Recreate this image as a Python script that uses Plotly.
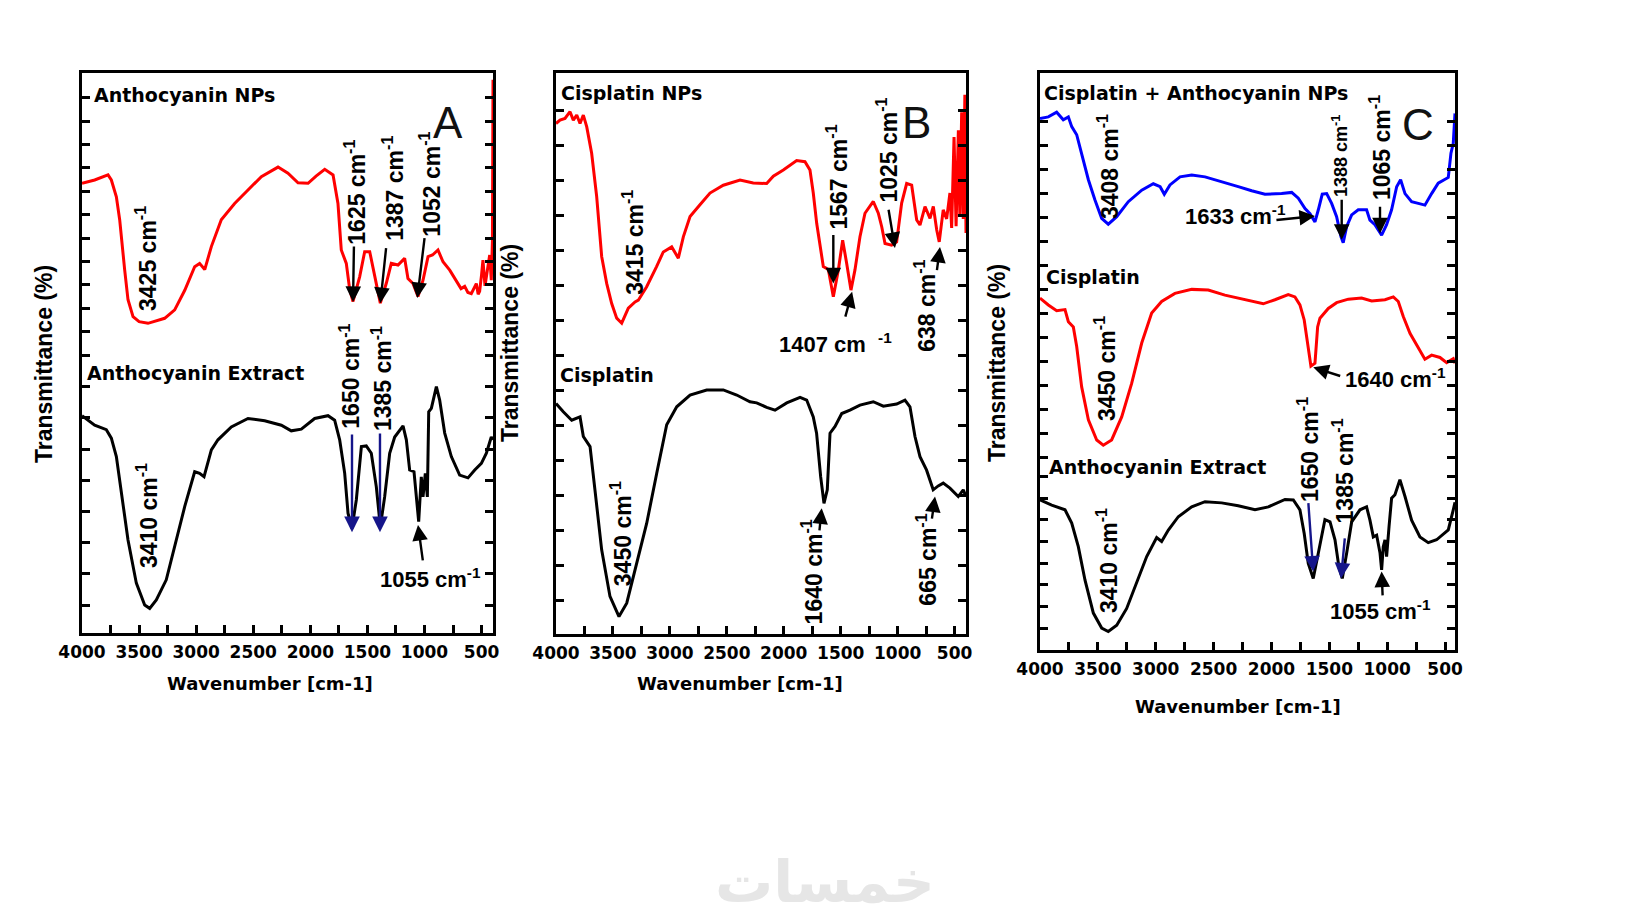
import plotly.graph_objects as go
import numpy as np

W, H = 1652, 923
OFF = 8  # page body margin of the html page

# ---------------- data (wavenumber cm-1, transmittance, arbitrary offset units) ----------------
a_nps = [(4000,80.3),(3889,80.9),(3772,81.8),(3743,80.9),(3699,77.9),(3670,73.8),(3626,64.8),(3597,59.5),
         (3553,56.5),(3500,55.6),(3422,55.3),(3350,55.8),(3276,56.2),(3188,57.7),(3100,61.2),(3013,65.4),
         (2970,66.0),(2925,64.9),(2867,69.0),(2780,73.8),(2663,76.7),(2546,79.1),(2429,81.5),(2283,83.2),
         (2196,82.1),(2108,80.4),(2020,80.3),(1950,81.6),(1874,82.8),(1801,81.8),(1758,76.7),(1729,68.4),
         (1685,66.0),(1655,61.3),(1626,59.2),(1568,63.6),(1524,68.1),(1480,68.1),(1436,63.6),(1387,58.9),
         (1334,62.5),(1291,66.0),(1232,65.7),(1174,66.9),(1145,63.3),(1101,62.4),(1057,60.1),(1013,63.0),
         (969,67.2),(930,67.5),(882,68.4),(838,66.3),(779,64.8),(707,62.4),(680,61.5),(648,61.9),(620,60.8),
         (590,60.6),(560,62.0),(546,62.4),(530,60.5),(517,61.0),(500,64.0),(488,66.6),(470,62.0),(458,63.5),
         (445,65.5),(429,67.5),(415,63.0),(405,70.0),(400,98.8)]
a_ext = [(4000,38.8),(3889,37.1),(3787,36.3),(3743,34.8),(3699,31.5),(3656,25.5),(3597,16.6),(3524,8.9),
         (3451,5.0),(3407,4.4),(3349,5.9),(3262,9.5),(3188,15.4),(3100,22.6),(3013,28.8),(2970,28.5),
         (2931,27.9),(2867,32.7),(2809,34.5),(2692,36.8),(2546,38.3),(2400,37.9),(2254,37.1),(2167,36.1),
         (2079,36.4),(1962,38.3),(1845,38.8),(1787,38.0),(1743,34.5),(1699,28.5),(1670,21.4),(1635,18.7),
         (1597,23.8),(1553,33.3),(1510,33.4),(1466,32.1),(1422,26.1),(1387,19.0),(1349,24.3),(1305,32.1),
         (1261,35.0),(1188,37.0),(1159,34.5),(1130,29.1),(1092,28.8),(1072,24.3),(1051,19.9),(1028,27.9),
         (1013,24.3),(993,28.5),(975,24.3),(963,39.5),(940,40.1),(896,44.0),(867,41.6),(823,35.7),(765,31.5),
         (692,28.2),(619,27.7),(560,29.1),(502,30.3),(458,32.1),(415,35.0),(400,34.5)]
b_nps = [(4000,91.0),(3965,91.6),(3921,91.9),(3877,93.1),(3848,91.6),(3818,92.5),(3789,91.0),(3760,92.5),
         (3730,90.4),(3687,85.7),(3643,78.0),(3599,67.3),(3555,62.5),(3511,58.9),(3467,56.3),(3423,55.4),
         (3365,58.1),(3306,59.2),(3277,59.5),(3204,61.9),(3117,65.5),(3058,68.1),(2984,69.0),(2926,67.0),
         (2882,70.8),(2823,74.4),(2736,76.5),(2648,78.6),(2531,80.0),(2384,80.9),(2268,80.4),(2150,80.3),
         (2092,81.6),(2004,82.7),(1887,84.4),(1814,84.2),(1770,82.7),(1741,78.6),(1711,73.2),(1688,70.2),
         (1653,65.5),(1609,65.0),(1565,60.1),(1521,64.9),(1483,70.2),(1448,66.1),(1410,61.3),(1375,64.9),
         (1331,70.8),(1287,75.0),(1214,77.1),(1170,75.0),(1140,72.6),(1111,69.6),(1053,69.3),(1009,69.9),
         (965,76.8),(921,80.3),(877,80.0),(833,73.8),(804,72.9),(760,76.2),(716,74.1),(687,76.2),(657,72.0),
         (635,69.9),(600,75.6),(570,74.0),(541,78.6),(526,72.4),(505,88.6),(487,72.7),(467,89.8),(454,74.5),
         (438,93.0),(424,74.0),(410,96.1),(400,71.5)]
b_cis = [(4000,41.1),(3936,39.6),(3862,38.1),(3789,38.7),(3760,35.2),(3701,33.4),(3658,25.7),(3599,15.0),
         (3526,6.7),(3447,3.1),(3379,5.5),(3291,12.6),(3204,19.7),(3116,28.6),(3028,37.3),(2940,40.5),
         (2823,42.6),(2677,43.5),(2531,43.5),(2413,42.6),(2297,41.4),(2238,41.2),(2150,40.4),(2077,39.9),
         (1974,41.2),(1857,42.2),(1799,41.7),(1741,38.7),(1712,35.8),(1676,28.0),(1647,23.3),(1618,25.7),
         (1594,35.8),(1550,37.0),(1491,39.3),(1419,39.9),(1331,40.8),(1214,41.4),(1126,40.6),(1009,41.0),
         (936,41.7),(892,40.5),(848,35.2),(804,31.6),(746,29.2),(688,25.7),(644,26.4),(600,26.9),(541,26.0),
         (468,24.5),(424,25.7),(400,24.5)]
c_mix = [(4000,92.1),(3928,92.4),(3856,93.2),(3830,92.6),(3799,91.9),(3755,92.4),(3726,90.7),(3683,89.3),
         (3640,86.1),(3582,81.5),(3525,78.0),(3467,74.8),(3410,73.8),(3337,75.1),(3237,77.7),(3121,79.7),
         (3021,80.8),(2962,80.3),(2926,79.0),(2877,80.6),(2790,82.0),(2689,82.3),(2574,82.0),(2430,81.2),
         (2287,80.3),(2171,79.6),(2056,79.0),(1912,79.1),(1825,79.3),(1768,78.3),(1710,76.5),(1667,75.6),
         (1624,74.2),(1595,76.3),(1561,79.0),(1523,79.1),(1480,77.4),(1437,75.1),(1399,71.6),(1380,70.6),
         (1350,73.4),(1307,75.4),(1250,76.3),(1178,76.3),(1149,74.5),(1106,73.7),(1048,71.9),(1005,73.7),
         (962,76.3),(918,80.3),(884,81.5),(846,79.1),(789,77.7),(731,77.4),(674,77.1),(616,79.1),(559,80.9),
         (472,81.9),(449,86.1),(429,87.8),(414,93.0)]
c_cis = [(4000,61.0),(3928,59.8),(3856,58.8),(3784,59.0),(3755,56.9),(3712,56.0),(3683,52.6),(3640,45.6),
         (3582,39.9),(3510,36.4),(3453,35.5),(3381,36.4),(3294,40.4),(3208,46.2),(3121,53.2),(3035,58.4),
         (2949,60.4),(2834,61.8),(2689,62.5),(2546,62.4),(2402,61.5),(2257,60.8),(2171,60.5),(2071,60.0),
         (1970,60.7),(1855,61.6),(1797,61.2),(1754,59.8),(1717,57.2),(1687,53.2),(1659,49.2),(1624,49.7),
         (1601,56.0),(1581,57.5),(1509,59.2),(1437,60.2),(1336,60.8),(1221,61.0),(1134,60.5),(1019,60.7),
         (947,61.2),(904,60.4),(861,57.8),(803,54.9),(745,52.9),(674,50.4),(616,51.1),(544,50.7),(486,49.8),
         (429,50.5),(414,49.7)]
c_ext = [(4000,26.0),(3899,25.1),(3784,24.3),(3726,22.0),(3669,17.9),(3611,12.1),(3539,6.4),(3467,3.8),
         (3410,3.2),(3337,4.3),(3251,7.2),(3165,11.6),(3078,16.2),(2992,19.5),(2949,18.8),(2891,20.8),
         (2805,23.1),(2689,24.8),(2574,25.7),(2430,25.5),(2287,25.0),(2142,24.3),(2027,24.8),(1883,26.1),
         (1811,26.0),(1754,24.3),(1717,20.2),(1682,15.0),(1639,12.4),(1595,16.8),(1538,22.6),(1494,22.2),
         (1451,19.1),(1417,14.4),(1388,12.4),(1350,16.8),(1307,22.2),(1235,24.3),(1178,24.8),(1149,22.5),
         (1120,19.6),(1091,19.9),(1062,16.8),(1048,13.9),(1034,17.9),(1019,19.1),(1005,16.2),(984,21.4),
         (962,26.3),(933,26.9),(890,29.5),(846,26.6),(789,22.5),(717,19.6),(645,18.6),(573,19.1),(530,19.9),
         (472,20.8),(429,24.3),(414,25.6)]

x_tick_vals = [4000, 3500, 3000, 2500, 2000, 1500, 1000, 500]
x_tick_text = ["4000", "3500", "3000", "2500", "2000", "1500", "1000", "500"]

# sample name labels: (panel, wn, t, text)
names = [(1, 3912, 96.1, "Anthocyanin NPs"), (1, 3971, 46.4, "Anthocyanin Extract"),
         (2, 3974, 96.4, "Cisplatin NPs"), (2, 3982, 46.2, "Cisplatin"),
         (3, 3983, 96.6, "Cisplatin + Anthocyanin NPs"), (3, 3965, 64.7, "Cisplatin"),
         (3, 3942, 31.8, "Anthocyanin Extract")]
letters = [(1, 794, 91.1, "A"), (2, 833, 91.1, "B"), (3, 734, 91.0, "C")]
# rotated peak labels: (panel, wn, t, text, size)
peaks_v = [(1, 3439, 66.8, "3425 cm<sup>-1</sup>", 23), (1, 1609, 78.8, "1625 cm<sup>-1</sup>", 23),
           (1, 1276, 79.5, "1387 cm<sup>-1</sup>", 23), (1, 954, 80.2, "1052 cm<sup>-1</sup>", 23),
           (1, 3425, 21.0, "3410 cm<sup>-1</sup>", 23), (1, 1655, 45.9, "1650 cm<sup>-1</sup>", 23),
           (1, 1378, 45.4, "1385 cm<sup>-1</sup>", 23),
           (2, 3324, 69.9, "3415 cm<sup>-1</sup>", 23), (2, 1535, 81.5, "1567 cm<sup>-1</sup>", 23),
           (2, 1096, 86.3, "1025 cm<sup>-1</sup>", 23), (2, 760, 58.5, "638 cm<sup>-1</sup>", 23),
           (2, 3429, 17.8, "3450 cm<sup>-1</sup>", 23), (2, 1755, 11.1, "1640 cm<sup>-1</sup>", 23),
           (2, 745, 13.2, "665 cm<sup>-1</sup>", 23),
           (3, 3412, 83.7, "3408 cm<sup>-1</sup>", 23), (3, 1408, 85.6, "1388 cm<sup>-1</sup>", 18),
           (3, 1062, 87.0, "1065 cm<sup>-1</sup>", 23), (3, 3438, 48.7, "3450 cm<sup>-1</sup>", 23),
           (3, 3425, 15.5, "3410 cm<sup>-1</sup>", 23), (3, 1682, 34.7, "1650 cm<sup>-1</sup>", 23),
           (3, 1379, 31.0, "1385 cm<sup>-1</sup>", 23)]
# horizontal peak labels: (panel, wn_left, t, text)
peaks_h = [(1, 1407, 9.8, "1055 cm<sup>-1</sup>"), (2, 2062, 51.8, "1407 cm  <sup>-1</sup>"),
           (3, 2764, 75.4, "1633 cm<sup>-1</sup>"), (3, 1380, 47.1, "1640 cm<sup>-1</sup>"),
           (3, 1509, 6.9, "1055 cm<sup>-1</sup>")]
# arrows: (panel, wn_tail, t_tail, wn_head, t_head, colour)
NAVY = "#15158a"
arrows = [(1, 1618, 69.3, 1626, 59.1, "black"), (1, 1335, 69.0, 1387, 58.9, "black"),
          (1, 998, 70.8, 1063, 59.8, "black"), (1, 1635, 35.7, 1635, 18.0, NAVY),
          (1, 1390, 35.9, 1390, 18.0, NAVY), (1, 1013, 12.7, 1057, 19.3, "black"),
          (2, 1565, 71.4, 1565, 62.5, "black"), (2, 1463, 56.3, 1400, 61.0, "black"),
          (2, 1082, 75.9, 1024, 68.8, "black"), (2, 657, 64.6, 628, 69.0, "black"),
          (2, 1688, 18.2, 1667, 22.4, "black"), (2, 701, 20.3, 672, 24.5, "black"),
          (3, 1970, 74.5, 1624, 75.2, "black"), (3, 1393, 78.3, 1393, 71.1, "black"),
          (3, 1062, 77.1, 1062, 72.2, "black"), (3, 1393, 47.4, 1639, 49.0, "black"),
          (3, 1682, 25.7, 1639, 13.6, NAVY), (3, 1365, 19.6, 1399, 12.4, NAVY),
          (3, 1039, 9.2, 1048, 13.6, "black")]

# ---------------- layout geometry (screen pixels) ----------------
panels = {1: dict(x0=82, x1=493, y0=73, y1=633, xr=[4000, 400]),
          2: dict(x0=556, x1=966, y0=73, y1=634, xr=[4000, 400]),
          3: dict(x0=1040, x1=1455, y0=73, y1=650, xr=[4000, 414])}

def fx(px):
    return (px - OFF) / W

def fy(py):
    return 1 - (py - OFF) / H

def yticks_from_px(p, pxs):
    return [(p["y1"] - y) / (p["y1"] - p["y0"]) * 100 for y in pxs]

ytick_px = {1: list(97.7 + 23.4 * np.arange(11)) + list(605 - 31.2 * np.arange(9)),
            2: list(600 - 35.0 * np.arange(15)),
            3: list(121.7 + 24.0 * np.arange(15)) + list(628.3 - 21.67 * np.arange(8))}

fig = go.Figure()

def sfx(k):
    return "" if k == 1 else str(k)

def add_curve(panel, pts, color):
    s = sfx(panel)
    fig.add_trace(go.Scatter(x=[p[0] for p in pts], y=[p[1] for p in pts], mode="lines",
                             line=dict(color=color, width=3),
                             xaxis="x" + s, yaxis="y" + s, showlegend=False, hoverinfo="skip"))

add_curve(1, a_nps, "#ff0000")
add_curve(1, a_ext, "#000000")
add_curve(2, b_nps, "#ff0000")
add_curve(2, b_cis, "#000000")
add_curve(3, c_mix, "#0000ff")
add_curve(3, c_cis, "#ff0000")
add_curve(3, c_ext, "#000000")

layout = dict(width=W, height=H, margin=dict(l=0, r=0, t=0, b=0, autoexpand=False),
              paper_bgcolor="white", plot_bgcolor="white", showlegend=False)

for k, p in panels.items():
    s = sfx(k)
    layout["xaxis" + s] = dict(
        domain=[fx(p["x0"]), fx(p["x1"])], range=p["xr"], anchor="y" + s, automargin=False,
        showgrid=False, zeroline=False, showline=True, linecolor="black", linewidth=3, mirror=True,
        ticks="inside", ticklen=8, tickwidth=2.5, tickcolor="black",
        tickmode="array", tickvals=x_tick_vals, ticktext=x_tick_text,
        tickfont=dict(family="DejaVu Sans", size=17, color="black", weight="bold"),
        ticklabelstandoff=2,
        minor=dict(ticks="inside", dtick=250, tick0=0, ticklen=8, tickwidth=2.5, tickcolor="black"))
    layout["yaxis" + s] = dict(
        domain=[fy(p["y1"]), fy(p["y0"])], range=[0, 100], anchor="x" + s, automargin=False,
        showgrid=False, zeroline=False, showline=True, linecolor="black", linewidth=3, mirror="ticks",
        ticks="inside", ticklen=8, tickwidth=2.5, tickcolor="black",
        tickmode="array", tickvals=yticks_from_px(p, ytick_px[k]), showticklabels=False)

ann = []
def refs(k):
    s = sfx(k)
    return "x" + s, "y" + s

for k, wn, t, txt in names:
    xr, yr = refs(k)
    ann.append(dict(xref=xr, yref=yr, x=wn, y=t, text=txt, showarrow=False, xanchor="left", yanchor="middle",
                    font=dict(family="DejaVu Sans", size=19, color="black", weight="bold")))
for k, wn, t, txt in letters:
    xr, yr = refs(k)
    ann.append(dict(xref=xr, yref=yr, x=wn, y=t, text=txt, showarrow=False, xanchor="center", yanchor="middle",
                    font=dict(family="Liberation Sans", size=44, color="#111111")))
for k, wn, t, txt, sz in peaks_v:
    xr, yr = refs(k)
    ann.append(dict(xref=xr, yref=yr, x=wn, y=t, text=txt, showarrow=False, textangle=-90,
                    xanchor="center", yanchor="middle",
                    font=dict(family="Liberation Sans", size=sz, color="black", weight="bold")))
for k, wn, t, txt in peaks_h:
    xr, yr = refs(k)
    ann.append(dict(xref=xr, yref=yr, x=wn, y=t, text=txt, showarrow=False, xanchor="left", yanchor="middle",
                    font=dict(family="Liberation Sans", size=22, color="black", weight="bold")))
for k, wt, tt, wh, th, col in arrows:
    xr, yr = refs(k)
    ann.append(dict(xref=xr, yref=yr, axref=xr, ayref=yr, x=wh, y=th, ax=wt, ay=tt, text="",
                    showarrow=True, arrowhead=2, arrowsize=1.3, arrowwidth=2.4, arrowcolor=col,
                    standoff=0, startstandoff=0))

# axis titles
for xc, yc in [(44, 364), (510, 343), (997, 363)]:
    ann.append(dict(xref="paper", yref="paper", x=fx(xc), y=fy(yc), text="Transmittance (%)",
                    textangle=-90, showarrow=False, xanchor="center", yanchor="middle",
                    font=dict(family="Liberation Sans", size=23, color="black", weight="bold")))
for xc, yc in [(270, 683), (740, 683), (1238, 706)]:
    ann.append(dict(xref="paper", yref="paper", x=fx(xc), y=fy(yc), text="Wavenumber [cm-1]",
                    showarrow=False, xanchor="center", yanchor="middle",
                    font=dict(family="DejaVu Sans", size=18, color="black", weight="bold")))

# watermark
ann.append(dict(xref="paper", yref="paper", x=fx(825), y=fy(882), text="خمسات", showarrow=False,
                xanchor="center", yanchor="middle",
                font=dict(family="DejaVu Sans", size=58, color="#e6e6e6", weight="bold")))

layout["annotations"] = ann
fig.update_layout(**layout)
fig.write_html("out.html")
